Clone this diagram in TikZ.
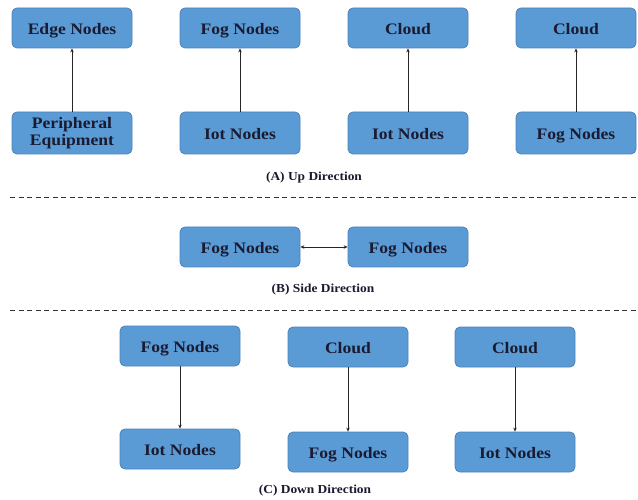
\documentclass[tikz,border=0pt]{standalone}
\usepackage{fontspec}
\setmainfont{Liberation Serif}[FakeStretch=1.1]
\usetikzlibrary{arrows.meta}
\definecolor{boxfill}{HTML}{5B9BD5}
\definecolor{boxline}{HTML}{4A82B8}
\definecolor{txt}{HTML}{1A1A30}
\begin{document}
\begin{tikzpicture}[x=1pt,y=-1pt,
  boxbase/.style={draw=boxline,line width=0.8pt,fill=boxfill,rounded corners=5pt,
    minimum width=120pt,minimum height=40pt,inner sep=0pt,align=center,
    font=\fontsize{16}{17}\selectfont\bfseries,text=txt},
  box/.style={boxbase,text height=13pt,text depth=0pt},
  conn/.style={draw=black!85,line width=0.8pt,-{Stealth[length=4pt,width=3.5pt]}},
  captext/.style={font=\fontsize{12.2}{13}\selectfont\bfseries,text=txt},
  sepline/.style={draw=black!80,line width=0.9pt,dash pattern=on 5pt off 3.5pt}]
\useasboundingbox (0,0) rectangle (638,500);
% (A) Up
\node[box] (a1t) at (72,28) {Edge Nodes};
\node[box] (a2t) at (240,28) {Fog Nodes};
\node[box] (a3t) at (408,28) {Cloud};
\node[box] (a4t) at (576,28) {Cloud};
\node[boxbase,minimum height=42pt] (a1b) at (72,133) {Peripheral\\[0pt]Equipment};
\node[box,minimum height=42pt] (a2b) at (240,133) {Iot Nodes};
\node[box,minimum height=42pt] (a3b) at (408,133) {Iot Nodes};
\node[box,minimum height=42pt] (a4b) at (576,133) {Fog Nodes};
\draw[conn] (a1b) -- (a1t);
\draw[conn] (a2b) -- (a2t);
\draw[conn] (a3b) -- (a3t);
\draw[conn] (a4b) -- (a4t);
\node[captext] (capa) at (314,178) {(A) Up Direction};
\coordinate (s1l) at (10,197);
\coordinate (s1r) at (638,197);
\draw[sepline] (s1l) -- (s1r);
% (B) Side
\node[box] (b1) at (240,247) {Fog Nodes};
\node[box] (b2) at (408,247) {Fog Nodes};
\draw[conn,{Stealth[length=4pt,width=3.5pt]}-{Stealth[length=4pt,width=3.5pt]}] (b1) -- (b2);
\node[captext] (capb) at (323,290) {(B) Side Direction};
\coordinate (s2l) at (10,310);
\coordinate (s2r) at (638,310);
\draw[sepline] (s2l) -- (s2r);
% (C) Down
\node[box] (c1t) at (180,346) {Fog Nodes};
\node[box] (c2t) at (348,347) {Cloud};
\node[box] (c3t) at (515,347) {Cloud};
\node[box] (c1b) at (180,449) {Iot Nodes};
\node[box] (c2b) at (348,452) {Fog Nodes};
\node[box] (c3b) at (515,452) {Iot Nodes};
\draw[conn] (c1t) -- (c1b);
\draw[conn] (c2t) -- (c2b);
\draw[conn] (c3t) -- (c3b);
\node[captext] (capc) at (315,491) {(C) Down Direction};
\end{tikzpicture}
\end{document}
